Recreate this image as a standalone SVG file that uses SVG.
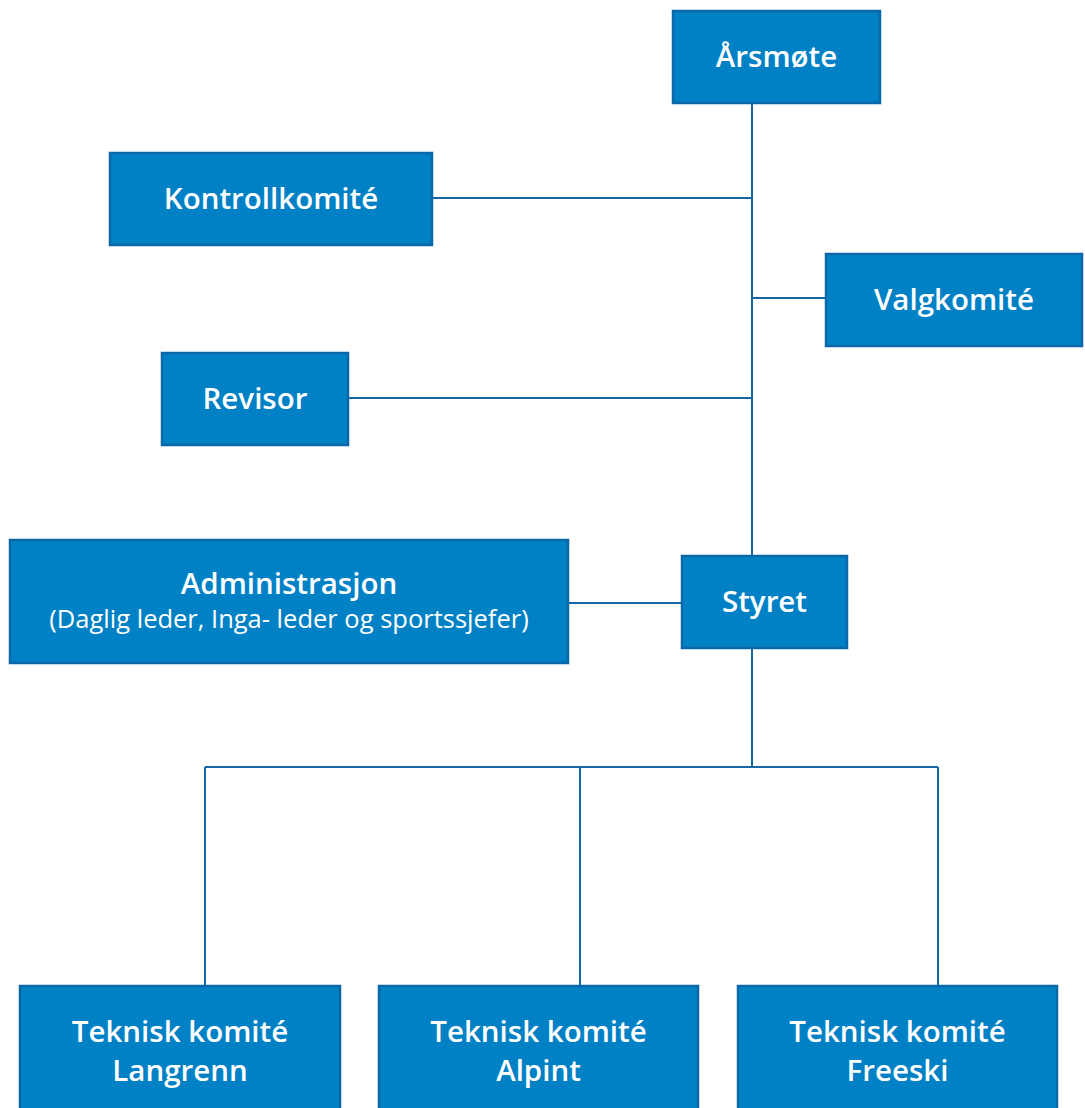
<svg xmlns="http://www.w3.org/2000/svg" width="1085" height="1108" viewBox="0 0 1085 1108">
<style>
.box{fill:#0081C5;stroke:#0A68A8;stroke-width:2.5}
.t{fill:#fff;font-family:"Open Sans","Liberation Sans",sans-serif;font-weight:600;font-size:29.5px;text-anchor:middle}
.s{fill:#fff;font-family:"Open Sans","Liberation Sans",sans-serif;font-weight:400;font-size:25.5px;text-anchor:middle}
.c{stroke:#1667A6;stroke-width:2;fill:none}
</style>
<rect width="1085" height="1108" fill="#fff"/>
<g id="connectors" class="c">
<path d="M752 103V556"/>
<path d="M432 198H752"/>
<path d="M752 298H826"/>
<path d="M348 398H752"/>
<path d="M568 603H682"/>
<path d="M752 648V767"/>
<path d="M205 767H938"/>
<path d="M205 767V986M580 767V986M938 767V986"/>
</g>
<g id="arsmote"><rect class="box" x="673" y="11" width="207" height="92"/><text class="t" x="776.5" y="67">Årsmøte</text></g>
<g id="kontrollkomite"><rect class="box" x="110" y="153" width="322" height="92"/><text class="t" x="271" y="209">Kontrollkomité</text></g>
<g id="valgkomite"><rect class="box" x="826" y="254" width="256" height="92"/><text class="t" x="954" y="310">Valgkomité</text></g>
<g id="revisor"><rect class="box" x="162" y="353" width="186" height="92"/><text class="t" x="255" y="409">Revisor</text></g>
<g id="administrasjon"><rect class="box" x="10" y="540" width="558" height="123"/><text class="t" x="289" y="594">Administrasjon</text><text class="s" x="289" y="628">(Daglig leder, Inga- leder og sportssjefer)</text></g>
<g id="styret"><rect class="box" x="682" y="556" width="165" height="92"/><text class="t" x="764.5" y="612">Styret</text></g>
<g id="tk-langrenn"><rect class="box" x="20" y="986" width="320" height="130"/><text class="t" x="180" y="1042">Teknisk komité</text><text class="t" x="180" y="1081">Langrenn</text></g>
<g id="tk-alpint"><rect class="box" x="379" y="986" width="319" height="130"/><text class="t" x="538.5" y="1042">Teknisk komité</text><text class="t" x="538.5" y="1081">Alpint</text></g>
<g id="tk-freeski"><rect class="box" x="738" y="986" width="319" height="130"/><text class="t" x="897.5" y="1042">Teknisk komité</text><text class="t" x="897.5" y="1081">Freeski</text></g>
</svg>
